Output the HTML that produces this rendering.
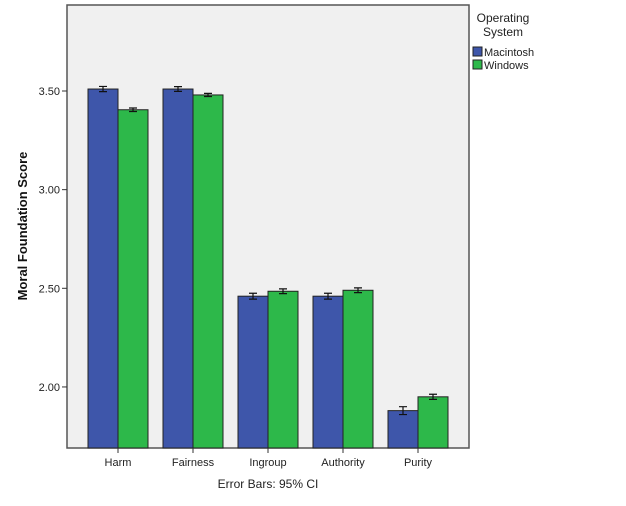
<!DOCTYPE html>
<html><head><meta charset="utf-8"><style>
body{margin:0;background:#fff;font-family:"Liberation Sans",Arial,sans-serif;}
svg text{font-family:"Liberation Sans",Arial,sans-serif;}
</style></head><body>
<svg id="chart" width="626" height="501">
<rect x="67" y="5" width="402" height="443" fill="#f0f0f0" stroke="#555" stroke-width="1.5"/>
<g id="bars"></g>
<text x="268" y="488" font-size="12" text-anchor="middle" fill="#222">Error Bars: 95% CI</text>
<text transform="translate(27,226) rotate(-90)" font-size="13" font-weight="bold" text-anchor="middle" fill="#111">Moral Foundation Score</text>
<g>
<text x="503" y="22" font-size="12" text-anchor="middle" fill="#222">Operating</text>
<text x="503" y="36" font-size="12" text-anchor="middle" fill="#222">System</text>
<rect x="473" y="47" width="9" height="9" fill="#3e56aa" stroke="#222"/>
<text x="484" y="56" font-size="11" fill="#222">Macintosh</text>
<rect x="473" y="60" width="9" height="9" fill="#2db84a" stroke="#222"/>
<text x="484" y="69" font-size="11" fill="#222">Windows</text>
</g>
</svg>
<script>
const categories=["Harm","Fairness","Ingroup","Authority","Purity"];
const macValues=[3.51,3.51,2.46,2.46,1.88];
const winValues=[3.405,3.48,2.485,2.49,1.95];
const macCI=[0.013,0.012,0.015,0.015,0.02];
const winCI=[0.009,0.008,0.012,0.012,0.013];
const yTicks=[2.00,2.50,3.00,3.50];
const ns="http://www.w3.org/2000/svg";
const svg=document.getElementById('chart');
const g=document.getElementById('bars');
const y=v=>91+(3.5-v)*197.3;
const baseY=448;
const x=i=>118+i*75;
function mk(t,a,p){const e=document.createElementNS(ns,t);for(const k in a)e.setAttribute(k,a[k]);(p||g).appendChild(e);return e;}
yTicks.forEach(t=>{
 const l=mk('line',{x1:62,x2:67,y1:y(t),y2:y(t),stroke:'#333'},svg);
 
 
 const tx=mk('text',{x:60,y:y(t)+4,'font-size':11,'text-anchor':'end',fill:'#222'},svg);
 tx.textContent=t.toFixed(2);
 
 
});
categories.forEach((c,i)=>{
 [[macValues,macCI,'#3e56aa',-30,'mac'],[winValues,winCI,'#2db84a',0,'win']].forEach(([vals,ci,col,off,nm])=>{
  const v=vals[i];
  const r=mk('rect',{x:x(i)+off,y:y(v),width:30,height:baseY-y(v),fill:col,stroke:'#222','stroke-width':1});
  
  
  const cx=x(i)+off+15,y1=y(v+ci[i]),y2=y(v-ci[i]);
  const e=mk('path',{d:`M${cx-4},${y1}H${cx+4}M${cx},${y1}V${y2}M${cx-4},${y2}H${cx+4}`,stroke:'#111','stroke-width':1.2,fill:'none'});
  
  
 });
 const tk=mk('line',{x1:x(i),x2:x(i),y1:448,y2:453,stroke:'#333'},svg);
 
 
 const t=mk('text',{x:x(i),y:466,'font-size':11,'text-anchor':'middle',fill:'#222'},svg);
 t.textContent=c;
 
 
});
</script>
</body></html>
